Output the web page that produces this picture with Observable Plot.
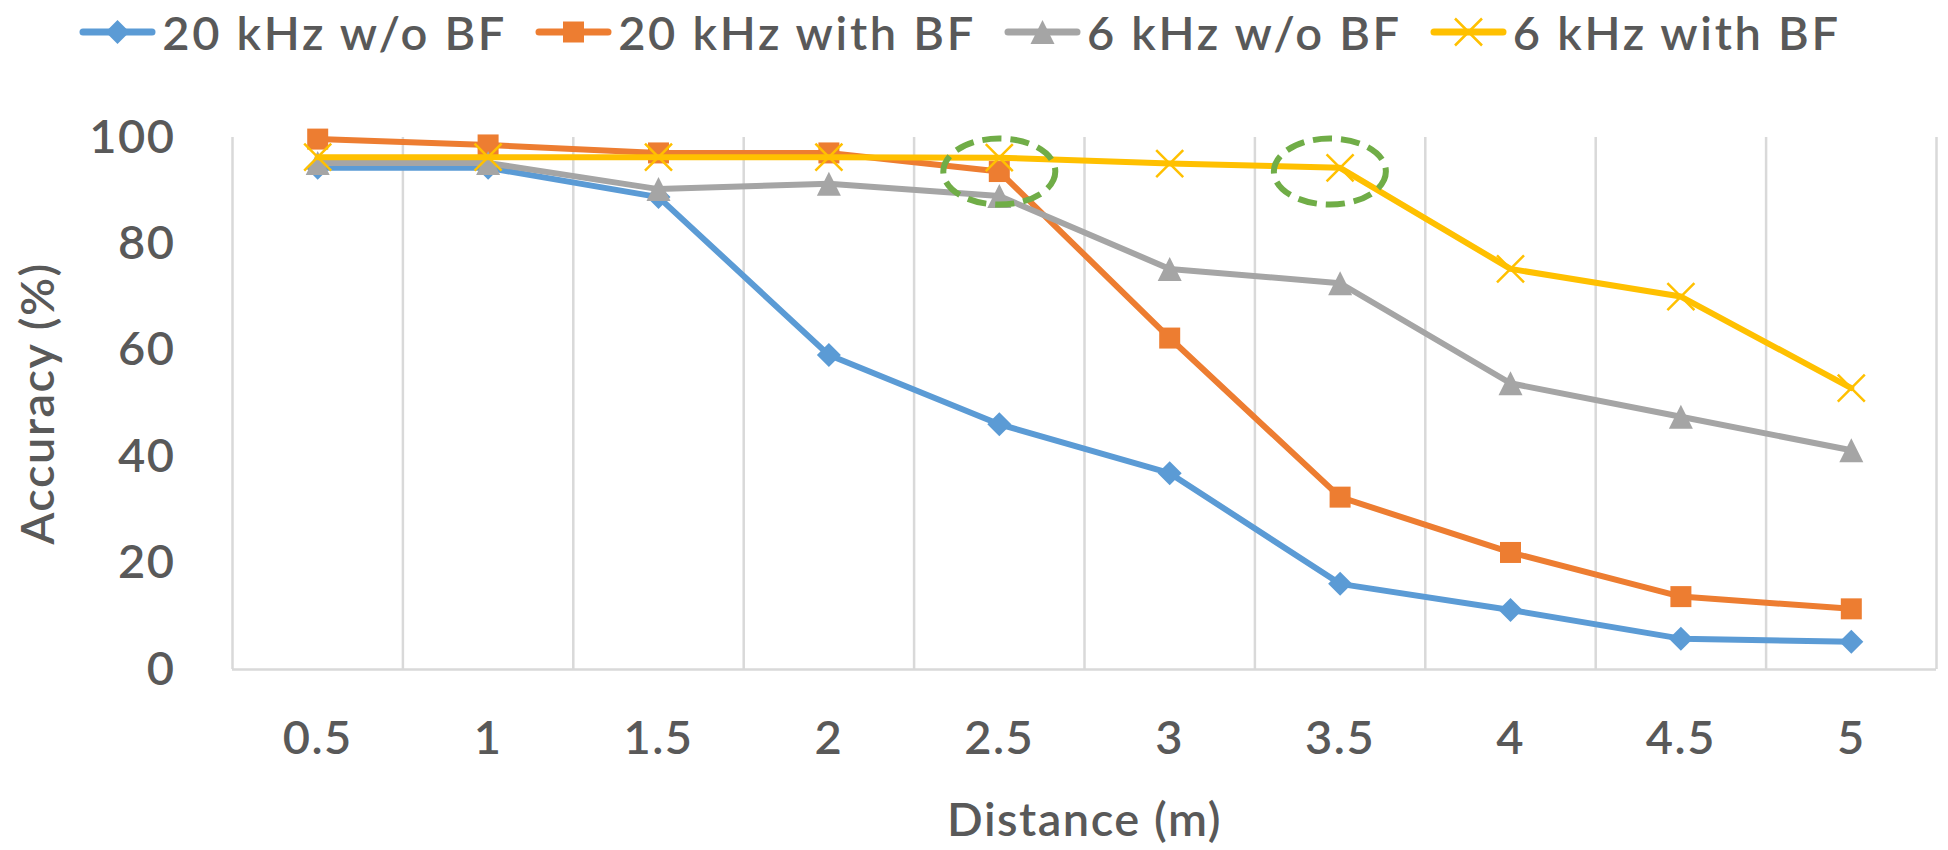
<!DOCTYPE html>
<html><head><meta charset="utf-8">
<script src="https://cdn.jsdelivr.net/npm/d3@7"></script>
<script src="https://cdn.jsdelivr.net/npm/@observablehq/plot@0.6"></script>
<style>
body{margin:0;background:#fff;font-family:Lato, sans-serif;}
#legend{height:64px;display:flex;justify-content:center;align-items:center;color:#595959;font-size:47px;font-weight:600;letter-spacing:2.7px;padding-right:28px;}
.item{display:flex;align-items:center;margin:0 14px;white-space:nowrap;}
.item svg{margin-right:6px;overflow:visible}
</style></head><body>
<div id="legend"></div>
<div id="chart"></div>
<script>
const distances = [0.5, 1, 1.5, 2, 2.5, 3, 3.5, 4, 4.5, 5];
const tickLabels = ["0.5", "1", "1.5", "2", "2.5", "3", "3.5", "4", "4.5", "5"];
const yTicks = [0, 20, 40, 60, 80, 100];
const seriesNames = ["20 kHz w/o BF", "20 kHz with BF", "6 kHz w/o BF", "6 kHz with BF"];
const seriesColors = ["#5B9BD5", "#ED7D31", "#A5A5A5", "#FFC000"];
const khz20NoBF = [94.3, 94.3, 88.8, 59.1, 46.1, 36.9, 16.1, 11.2, 5.8, 5.2];
const khz20BF   = [99.7, 98.6, 97.1, 97.1, 93.6, 62.3, 32.4, 22.0, 13.7, 11.4];
const khz6NoBF  = [95.2, 95.2, 90.3, 91.3, 89.0, 75.3, 72.6, 53.8, 47.5, 41.2];
const khz6BF    = [96.3, 96.3, 96.3, 96.3, 96.2, 95.1, 94.3, 75.3, 70.1, 52.9];
const highlightX = [2.5, 3.47];
const highlightY = [93.6, 93.6];

const half = size => Math.sqrt(size / Math.PI);
const symDiamond = {draw(c, size){const s = half(size); c.moveTo(0,-s); c.lineTo(s,0); c.lineTo(0,s); c.lineTo(-s,0); c.closePath();}};
const symSquare = {draw(c, size){const s = half(size); c.moveTo(-s,-s); c.lineTo(s,-s); c.lineTo(s,s); c.lineTo(-s,s); c.closePath();}};
const symTriangle = {draw(c, size){const s = half(size); c.moveTo(0,-s); c.lineTo(s,s); c.lineTo(-s,s); c.closePath();}};
const symX = {draw(c, size){const s = half(size); c.moveTo(-s,-s); c.lineTo(s,s); c.moveTo(s,-s); c.lineTo(-s,s);}};
const symEllipse = {draw(c){const rx = 56, ry = 33, k = 0.5523;
  c.moveTo(rx,0);
  c.bezierCurveTo(rx, ry*k, rx*k, ry, 0, ry);
  c.bezierCurveTo(-rx*k, ry, -rx, ry*k, -rx, 0);
  c.bezierCurveTo(-rx, -ry*k, -rx*k, -ry, 0, -ry);
  c.bezierCurveTo(rx*k, -ry, rx, -ry*k, rx, 0);
  c.closePath();}};

const seriesValues = [khz20NoBF, khz20BF, khz6NoBF, khz6BF];
const seriesSymbols = [symDiamond, symSquare, symTriangle, symX];
const seriesR = [12, 10.5, 12, 13.5];
const seriesFilled = [true, true, true, false];

// legend
const legend = d3.select("#legend");
seriesNames.forEach((name, i) => {
  const item = legend.append("div").attr("class", "item");
  const svg = item.append("svg").attr("width", 77).attr("height", 30);
  svg.append("line").attr("x1", 4).attr("x2", 73).attr("y1", 15).attr("y2", 15)
    .attr("stroke", seriesColors[i]).attr("stroke-width", 7).attr("stroke-linecap", "round");
  svg.append("path").attr("transform", "translate(38.5,15)")
    .attr("d", d3.symbol(seriesSymbols[i], Math.PI * seriesR[i] * seriesR[i])())
    .attr("fill", seriesFilled[i] ? seriesColors[i] : "none")
    .attr("stroke", seriesColors[i]).attr("stroke-width", seriesFilled[i] ? 0 : 2.5);
  item.append("span").text(name);
});

const step = distances[1] - distances[0];
const bounds = [distances[0] - step / 2, ...distances.map(d => d + step / 2)];
const highlights = highlightX.map((x, i) => ({x, y: highlightY[i]}));

const marks = [
  Plot.ruleX(bounds, {stroke: "#d9d9d9", strokeWidth: 2.5}),
  Plot.ruleY([0], {stroke: "#d9d9d9", strokeWidth: 2.5}),
  Plot.axisX({ticks: distances, tickFormat: d => tickLabels[distances.indexOf(d)], tickSize: 0, tickPadding: 51,
    label: "Distance (m)", labelAnchor: "center", labelOffset: 166, labelArrow: "none"}),
  Plot.axisY({ticks: yTicks, tickSize: 0, tickPadding: 57,
    label: "Accuracy (%)", labelAnchor: "center", labelOffset: 212, labelArrow: "none"})
];
seriesValues.forEach((vals, i) => {
  const rows = distances.map((d, j) => ({d, v: vals[j]}));
  marks.push(Plot.line(rows, {x: "d", y: "v", stroke: seriesColors[i], strokeWidth: 6,
    strokeLinejoin: "round", strokeLinecap: "round"}));
  marks.push(Plot.dot(rows, {x: "d", y: "v", symbol: seriesSymbols[i], r: seriesR[i],
    fill: seriesFilled[i] ? seriesColors[i] : "none",
    stroke: seriesColors[i], strokeWidth: seriesFilled[i] ? 0 : 2.5}));
});
marks.push(Plot.dot(highlights, {x: "x", y: "y", symbol: symEllipse, r: 1, fill: "none",
  stroke: "#70AD47", strokeWidth: 6, strokeDasharray: "19,9"}));

const chart = Plot.plot({
  width: 1948, height: 786,
  marginLeft: 232, marginRight: 12, marginTop: 73, marginBottom: 181,
  x: {type: "linear", domain: [bounds[0], bounds[bounds.length - 1]]},
  y: {domain: [0, 100]},
  style: {fontFamily: "Lato, sans-serif", fontSize: "47px", fontWeight: 600, letterSpacing: "1.5px", color: "#595959", background: "white", overflow: "visible"},
  marks
});
document.getElementById("chart").appendChild(chart);
</script>
</body></html>
